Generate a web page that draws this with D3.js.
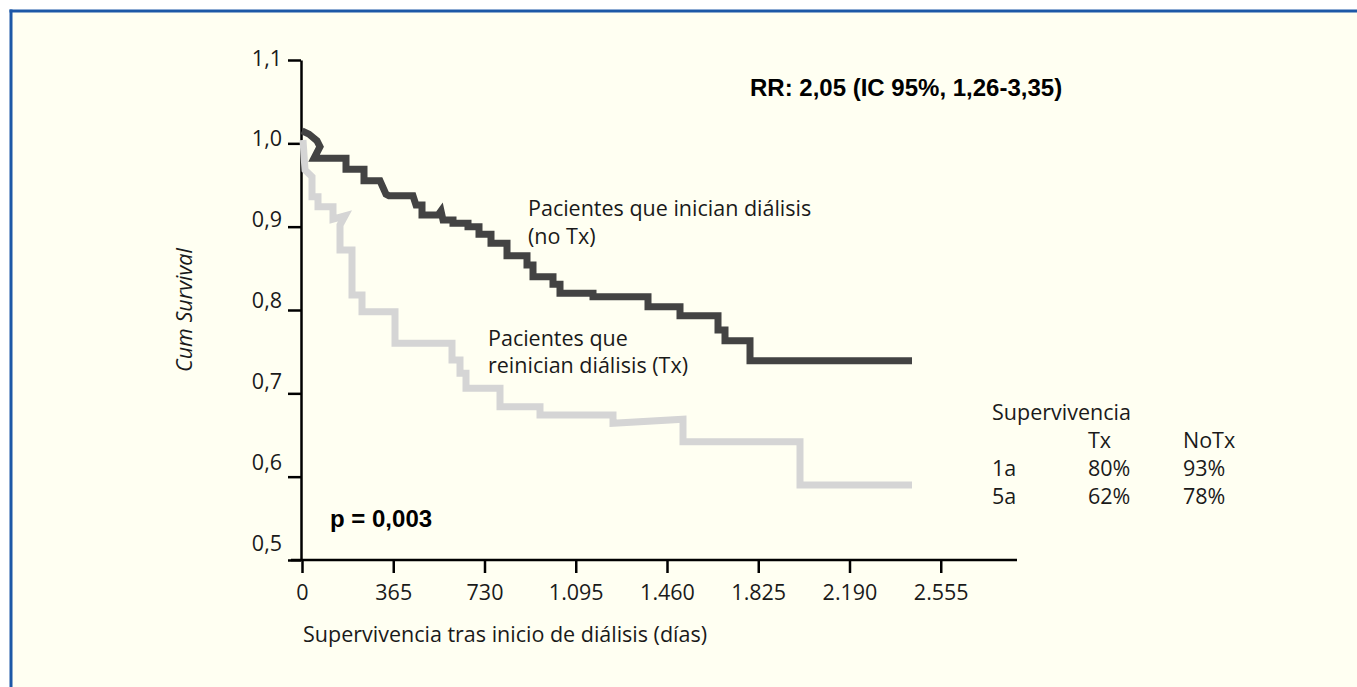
<!DOCTYPE html>
<html>
<head>
<meta charset="utf-8">
<script src="https://cdn.jsdelivr.net/npm/d3@7"></script>
<style>
  html, body { margin: 0; padding: 0; background: #ffffff; }
  svg { display: block; }
</style>
</head>
<body>
<svg id="chart" width="1357" height="687"></svg>
<script>
// ---- Data ----
// Curve vertices in (days, cumulative survival)
const noTxDays = [0, 28, 60, 72, 48, 176, 176, 248, 248, 312, 336, 348, 444, 456, 480, 480, 544, 556, 564, 604, 604, 664, 664, 708, 708, 756, 756, 820, 820, 900, 900, 924, 924, 1004, 1004, 1032, 1032, 1164, 1164, 1384, 1384, 1512, 1512, 1664, 1664, 1692, 1692, 1792, 1792, 2440];
const noTxSurv = [1.015, 1.011, 1.003, 0.996, 0.982, 0.982, 0.969, 0.969, 0.955, 0.955, 0.939, 0.937, 0.937, 0.926, 0.926, 0.914, 0.914, 0.919, 0.908, 0.908, 0.904, 0.904, 0.900, 0.900, 0.891, 0.891, 0.880, 0.880, 0.865, 0.865, 0.854, 0.854, 0.840, 0.840, 0.831, 0.831, 0.820, 0.820, 0.816, 0.816, 0.804, 0.804, 0.793, 0.793, 0.776, 0.776, 0.763, 0.763, 0.739, 0.739];

const txDays = [4, 12, 40, 40, 64, 64, 124, 124, 172, 152, 152, 200, 200, 240, 240, 372, 372, 600, 600, 632, 632, 656, 656, 792, 792, 952, 952, 1244, 1244, 1524, 1524, 1992, 1992, 2440];
const txSurv = [1.004, 0.968, 0.960, 0.936, 0.936, 0.924, 0.924, 0.909, 0.913, 0.902, 0.872, 0.872, 0.818, 0.818, 0.798, 0.798, 0.760, 0.760, 0.740, 0.740, 0.724, 0.724, 0.706, 0.706, 0.684, 0.684, 0.674, 0.674, 0.664, 0.669, 0.642, 0.642, 0.590, 0.590];

const xTicks = [0, 365, 730, 1095, 1460, 1825, 2190, 2555];
const yTicks = [0.5, 0.6, 0.7, 0.8, 0.9, 1.0, 1.1];

const tableHeader = ["", "Tx", "NoTx"];
const tableRows = [["1a", "80%", "93%"], ["5a", "62%", "78%"]];

// ---- Layout ----
const svg = d3.select("#chart");
const W = 1357, H = 687;

// background + frame
svg.append("rect").attr("x", 11).attr("y", 11).attr("width", W - 11).attr("height", H - 11).attr("fill", "#fffff2");
svg.append("line").attr("x1", 9.5).attr("x2", W).attr("y1", 11).attr("y2", 11).attr("stroke", "#1d58a7").attr("stroke-width", 3);
svg.append("line").attr("x1", 11).attr("x2", 11).attr("y1", 9.5).attr("y2", H).attr("stroke", "#1d58a7").attr("stroke-width", 3);

const x = d3.scaleLinear().domain([0, 2860]).range([302, 1017]);
const y = d3.scaleLinear().domain([0.5, 1.1]).range([560, 60]);
const yLabel = d3.scaleLinear().domain([0.5, 1.1]).range([550, 65]);

const esLocale = d3.formatLocale({ decimal: ",", thousands: ".", grouping: [3], currency: ["", "€"] });
const fmtX = esLocale.format(",");
const fmtY = d => d.toFixed(1).replace(".", ",");

const textFont = "'Open Sans', 'Noto Sans', sans-serif";
const boldFont = "'Liberation Sans', Arial, sans-serif";

// X axis
const gx = svg.append("g").attr("transform", `translate(0,${y(0.5)})`)
  .call(d3.axisBottom(x).tickValues(xTicks).tickSize(13).tickSizeOuter(0).tickFormat(fmtX));
gx.select(".domain").remove();
gx.append("line").attr("x1", x(0) - 11).attr("x2", x.range()[1]).attr("y1", 0).attr("y2", 0)
  .attr("stroke", "#000").attr("stroke-width", 2.5);
gx.selectAll(".tick line").attr("stroke", "#000").attr("stroke-width", 2.5);
gx.selectAll(".tick text").attr("y", 40).attr("dy", 0)
  .attr("font-family", textFont).attr("font-size", 21.5).attr("fill", "#1a1a1a");

// Y axis
const gy = svg.append("g").attr("transform", `translate(${x(0) - 1},0)`)
  .call(d3.axisLeft(y).tickValues(yTicks).tickSize(13).tickSizeOuter(0).tickFormat(fmtY));
gy.select(".domain").attr("stroke", "#000").attr("stroke-width", 2.5);
gy.selectAll(".tick line").attr("stroke", "#000").attr("stroke-width", 2.5);
gy.selectAll(".tick text")
  .attr("x", -19).attr("dy", 0)
  .attr("y", d => yLabel(d) - y(d))
  .attr("font-family", textFont).attr("font-size", 21.5).attr("fill", "#1a1a1a");

// Curves
const line = d3.line().x(d => x(d[0])).y(d => y(d[1])).curve(d3.curveLinear);
const noTx = noTxDays.map((d, i) => [d, noTxSurv[i]]);
const tx = txDays.map((d, i) => [d, txSurv[i]]);

svg.append("path").datum(noTx).attr("d", line)
  .attr("fill", "none").attr("stroke", "#434343").attr("stroke-width", 7)
  .attr("stroke-linejoin", "miter").attr("stroke-linecap", "butt");
svg.append("path").datum(tx).attr("d", line)
  .attr("fill", "none").attr("stroke", "#d5d5d5").attr("stroke-width", 7)
  .attr("stroke-linejoin", "miter").attr("stroke-linecap", "butt");

// Texts
function txt(s, px, py, opts = {}) {
  return svg.append("text").attr("x", px).attr("y", py).text(s)
    .attr("font-family", opts.font || textFont)
    .attr("font-size", opts.size || 21.5)
    .attr("font-weight", opts.weight || "normal")
    .attr("font-style", opts.style || "normal")
    .attr("fill", opts.fill || "#1a1a1a")
    .attr("text-anchor", opts.anchor || "start");
}

txt("RR: 2,05 (IC 95%, 1,26-3,35)", 750, 96, { font: boldFont, size: 24, weight: "bold", fill: "#000" });
txt("p = 0,003", 330, 527, { font: boldFont, size: 24, weight: "bold", fill: "#000" });

txt("Pacientes que inician diálisis", 528, 216);
txt("(no Tx)", 528, 244);
txt("Pacientes que", 488, 346);
txt("reinician diálisis (Tx)", 488, 373);

txt("Supervivencia tras inicio de diálisis (días)", 303, 642);

svg.append("text").text("Cum Survival")
  .attr("transform", "translate(192,310) rotate(-90)")
  .attr("text-anchor", "middle")
  .attr("font-family", textFont).attr("font-size", 21.5).attr("font-style", "italic").attr("fill", "#1a1a1a");

// Survival table
const colX = [992, 1088, 1183];
txt("Supervivencia", colX[0], 420);
tableHeader.forEach((h, i) => { if (h) txt(h, colX[i], 448); });
tableRows.forEach((row, r) => {
  row.forEach((c, i) => txt(c, colX[i], 476 + r * 27.5));
});
</script>
</body>
</html>
